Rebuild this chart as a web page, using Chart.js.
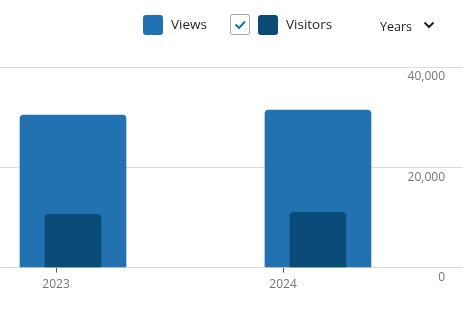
<!DOCTYPE html>
<html>
<head>
<meta charset="utf-8">
<script src="https://cdn.jsdelivr.net/npm/chart.js@4/dist/chart.umd.min.js"></script>
<style>
  html, body { margin: 0; padding: 0; background: #fff; }
  body { width: 463px; height: 311px; position: relative; overflow: hidden;
         font-family: "Open Sans", "Noto Sans", sans-serif; color: #1e1e1e; }
  #chart { position: absolute; left: 0; top: 0; }
  .hd { position: absolute; }
  .sw { width: 20px; height: 20px; border-radius: 3px; top: 15px; }
  .lbl { font-size: 13.5px; line-height: 20px; top: 14px; }
  .box { left: 230px; top: 14px; width: 18px; height: 19px; border: 1px solid #a7aaad;
         border-radius: 2px; background: #fff; }
  .years { left: 380px; top: 17px; font-size: 12.5px; line-height: 20px; color: #1e1e1e; }
  .chev { left: 423px; top: 21px; }
</style>
</head>
<body>
<canvas id="chart" width="463" height="311"></canvas>
<div class="hd sw" id="swViews" style="left:143px"></div>
<div class="hd lbl" style="left:171px">Views</div>
<div class="hd box">
  <svg width="18" height="19" viewBox="0 0 18 19"><polyline points="4.5,9.5 8,13 14,6.5" fill="none" stroke="#2271b1" stroke-width="2"/></svg>
</div>
<div class="hd sw" id="swVisitors" style="left:258px"></div>
<div class="hd lbl" style="left:286px">Visitors</div>
<div class="hd years">Years</div>
<svg class="hd chev" width="12" height="8" viewBox="0 0 12 8"><polyline points="1.5,1.5 6,6 10.5,1.5" fill="none" stroke="#1e1e1e" stroke-width="2"/></svg>

<script>
const years = [2023, 2024];
const views = [30400, 31400];
const visitors = [10600, 11000];
const yTicks = [0, 20000, 40000];

const viewsColor = '#2271b1';
const visitorsColor = '#0a4b78';
document.getElementById('swViews').style.background = viewsColor;
document.getElementById('swVisitors').style.background = visitorsColor;

const toPoints = vals => years.map((y, i) => ({ x: y, y: vals[i] }));

const ctx = document.getElementById('chart').getContext('2d');
new Chart(ctx, {
    type: 'bar',
    data: {
        datasets: [
            {
                label: 'Visitors',
                data: toPoints(visitors),
                xAxisID: 'xb',
                backgroundColor: visitorsColor,
                grouped: false,
                categoryPercentage: 1,
                barPercentage: 1,
                maxBarThickness: 56,
                borderRadius: 4,
                order: 0
            },
            {
                label: 'Views',
                data: toPoints(views),
                xAxisID: 'xb',
                backgroundColor: viewsColor,
                grouped: false,
                categoryPercentage: 1,
                barPercentage: 1,
                maxBarThickness: 106,
                borderRadius: 4,
                order: 1
            }
        ]
    },
    options: {
        responsive: false,
        animation: false,
        layout: { padding: { top: 67, left: 0, right: 0, bottom: 14 } },
        plugins: { legend: { display: false }, tooltip: { enabled: false } },
        scales: {
            xb: {
                type: 'linear',
                display: false,
                offset: false,
                grid: { offset: false },
                min: 2022.702,
                max: 2024.592,
                ticks: { stepSize: 1, includeBounds: false }
            },
            x: {
                type: 'linear',
                position: 'bottom',
                offset: false,
                min: 2022.753,
                max: 2024.793,
                border: { display: false },
                grid: { offset: false, drawOnChartArea: false, drawTicks: true, tickLength: 5, color: '#50575e' },
                ticks: {
                    stepSize: 1,
                    includeBounds: false,
                    padding: 5,
                    color: '#757575',
                    font: { family: 'Open Sans', size: 12 },
                    callback: v => String(v)
                }
            },
            y: {
                position: 'right',
                min: yTicks[0],
                max: yTicks[yTicks.length - 1],
                border: { display: false },
                grid: { color: '#dcdcde', drawTicks: false },
                afterBuildTicks: axis => { axis.ticks = yTicks.map(v => ({ value: v })); },
                afterFit: axis => { axis.width = 0; },
                ticks: {
                    mirror: true,
                    padding: -18,
                    labelOffset: 10,
                    color: '#757575',
                    font: { family: 'Open Sans', size: 12 },
                    callback: v => v.toLocaleString('en-US')
                }
            }
        }
    }
});
</script>
</body>
</html>
